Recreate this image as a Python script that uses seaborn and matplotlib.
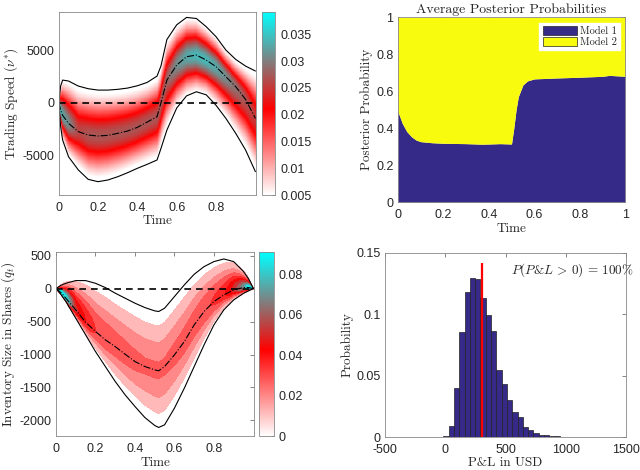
import numpy as np
import matplotlib
matplotlib.use('Agg')
import matplotlib.pyplot as plt
import seaborn as sns
from matplotlib.colors import LinearSegmentedColormap, Normalize
from matplotlib.patches import Patch
from matplotlib.ticker import FormatStrFormatter
import matplotlib.cm as cm

# --- values ---
# top-left: trading speed
speed_t = [0, 0.01, 0.02, 0.05, 0.1, 0.15, 0.2, 0.25, 0.3, 0.35, 0.4, 0.45, 0.5,
           0.52, 0.55, 0.6, 0.65, 0.7, 0.75, 0.8, 0.85, 0.9, 0.95, 1.0]
speed_mean = [0, -700, -1200, -1960, -2750, -3070, -3160, -3100, -2910, -2690, -2340, -1835, -1330,
              0, 2150, 3580, 4370, 4525, 4050, 3420, 2470, 1520, 316, -1490]
speed_upper = [0, 1600, 2150, 2060, 1580, 1330, 1200, 1200, 1270, 1390, 1610, 1930, 2530,
               3500, 6000, 7400, 8100, 8000, 7220, 6270, 5000, 4110, 3480, 3010]
speed_lower = [0, -2280, -3540, -5130, -6390, -7280, -7500, -7340, -7030, -6650, -6230, -5850, -5440,
               -4340, -2600, -500, 650, 1040, 750, -250, -1490, -2910, -4490, -6550]
speed_peak = [0.034, 0.034, 0.033, 0.031, 0.026, 0.027, 0.027, 0.027, 0.027, 0.027, 0.027, 0.027, 0.027,
              0.027, 0.028, 0.031, 0.033, 0.034, 0.034, 0.033, 0.031, 0.029, 0.027, 0.025]

# bottom-left: inventory
inv_t = [0, 0.025, 0.05, 0.1, 0.15, 0.2, 0.25, 0.3, 0.35, 0.4, 0.45, 0.5, 0.52,
         0.55, 0.6, 0.65, 0.7, 0.75, 0.8, 0.85, 0.9, 0.95, 0.975, 1.0]
inv_mean = [0, -60, -146, -323, -510, -650, -778, -880, -995, -1106, -1182, -1232, -1247,
            -1182, -1005, -803, -550, -348, -197, -96, -20, 15, 15, 0]
inv_upper = [0, 50, 80, 121, 121, 80, 15, -70, -146, -222, -288, -338, -348,
             -298, -121, 56, 217, 333, 409, 449, 409, 258, 150, 0]
inv_lower = [0, -90, -197, -450, -702, -955, -1182, -1409, -1611, -1788, -1955, -2076, -2106,
             -2066, -1813, -1510, -1182, -854, -550, -323, -172, -71, -35, 0]
inv_peak = [0.09, 0.09, 0.085, 0.05, 0.04, 0.032, 0.03, 0.028, 0.027, 0.026, 0.025, 0.025, 0.025,
            0.025, 0.026, 0.027, 0.028, 0.03, 0.033, 0.038, 0.05, 0.07, 0.09, 0.09]

# top-right: posterior probability of model 1
post_t = [0, 0.02, 0.04, 0.06, 0.08, 0.1, 0.15, 0.2, 0.3, 0.37, 0.4, 0.45, 0.5,
          0.51, 0.52, 0.53, 0.55, 0.57, 0.6, 0.7, 0.8, 0.9, 0.93, 1.0]
post_model1 = [0.494, 0.427, 0.382, 0.355, 0.337, 0.328, 0.322, 0.319, 0.317, 0.314, 0.315, 0.317, 0.315,
               0.40, 0.499, 0.571, 0.634, 0.656, 0.667, 0.672, 0.676, 0.681, 0.686, 0.681]

# bottom-right: P&L histogram
pnl_centers = [6, 50, 94, 138, 182, 226, 270, 314, 358, 402, 446, 490, 534, 578, 622,
               666, 710, 754, 798, 842, 886, 930, 974, 1018, 1062]
pnl_prob = [0.0008, 0.0092, 0.0398, 0.0858, 0.1183, 0.1292, 0.1289, 0.1132, 0.0991, 0.0864,
            0.0544, 0.0428, 0.0298, 0.0203, 0.0160, 0.0084, 0.0054, 0.0035, 0.0016, 0.0016,
            0.0008, 0.0005, 0.0003, 0.0002, 0.0004]
pnl_binwidth = 44
pnl_mean = 305
pnl_mean_top = 0.142

# --- style ---
sns.set_style('white')
plt.rcParams['font.family'] = ['Liberation Sans', 'DejaVu Sans']
plt.rcParams['mathtext.fontset'] = 'cm'
plt.rcParams['font.size'] = 9

heat_cmap = LinearSegmentedColormap.from_list('wrc', [(0, 'white'), (0.47, 'red'), (1, 'cyan')])
NAVY = '#352A87'
YELLOW = '#F9FB0E'
LBL = 9.5
SERIF = 'cmr10'


def style_axes(ax):
    ax.tick_params(direction='in', top=True, right=True, length=3, width=0.5,
                   color='#555555', labelsize=9)
    ax.tick_params(axis='x', pad=5)
    ax.tick_params(axis='y', pad=3)
    for s in ax.spines.values():
        s.set_color('#888888')
        s.set_linewidth(0.6)
    ax.xaxis.set_major_formatter(FormatStrFormatter('%g'))
    ax.yaxis.set_major_formatter(FormatStrFormatter('%g'))


def band_density(tk, mean, up, lo, peak, z, tg, yg):
    m = np.interp(tg, tk, mean)
    u = np.interp(tg, tk, up)
    l = np.interp(tg, tk, lo)
    p = np.interp(tg, tk, peak)
    su = np.maximum((u - m) / z, 1.0)
    sl = np.maximum((m - l) / z, 1.0)
    Y = yg[:, None]
    s = np.where(Y >= m, su, sl)
    return p * np.exp(-0.5 * ((Y - m) / s) ** 2)


fig = plt.figure(figsize=(6.4, 4.7), dpi=100)

# ---- top-left ----
ax1 = fig.add_axes([0.0917, 0.585, 0.3083, 0.390])
cax1 = fig.add_axes([0.4094, 0.585, 0.0208, 0.390])
tg = np.linspace(0, 1, 400)
yg1 = np.linspace(-8770, 8640, 320)
d1 = band_density(speed_t, speed_mean, speed_upper, speed_lower, speed_peak, 2.0, tg, yg1)
norm1 = Normalize(0.005, 0.0392)
ax1.pcolormesh(tg, yg1, d1, cmap=heat_cmap, norm=norm1, shading='auto', rasterized=True)
ax1.axhline(0, color='k', ls='--', lw=1.2, dashes=(4, 3))
sns.lineplot(x=speed_t, y=speed_upper, ax=ax1, color='k', lw=0.8)
sns.lineplot(x=speed_t, y=speed_lower, ax=ax1, color='k', lw=0.8)
sns.lineplot(x=speed_t, y=speed_mean, ax=ax1, color='k', lw=0.8, linestyle='-.')
ax1.set_xlim(0, 1.003)
ax1.set_ylim(-8770, 8640)
ax1.set_xticks([0, 0.2, 0.4, 0.6, 0.8])
ax1.set_yticks([-5000, 0, 5000])
ax1.set_xlabel('Time', fontfamily=SERIF, fontsize=LBL, labelpad=1)
ax1.set_ylabel(r'Trading Speed $(\nu^{*})$', fontfamily=SERIF, fontsize=LBL, labelpad=2)
style_axes(ax1)
cb1 = fig.colorbar(cm.ScalarMappable(norm=norm1, cmap=heat_cmap), cax=cax1,
                   ticks=[0.005, 0.01, 0.015, 0.02, 0.025, 0.03, 0.035])
cb1.ax.yaxis.set_major_formatter(FormatStrFormatter('%g'))
cb1.ax.tick_params(direction='in', length=2, width=0.5, labelsize=9, color='#555555')
cb1.outline.set_edgecolor('#888888')
cb1.outline.set_linewidth(0.6)

# ---- top-right ----
ax2 = fig.add_axes([0.6214, 0.5696, 0.3556, 0.3936])
ax2.fill_between(post_t, 0, post_model1, color=NAVY, lw=0)
ax2.fill_between(post_t, post_model1, 1, color=YELLOW, lw=0)
ax2.set_xlim(0, 1)
ax2.set_ylim(0, 1)
ax2.set_xticks([0, 0.2, 0.4, 0.6, 0.8, 1])
ax2.set_yticks([0, 0.2, 0.4, 0.6, 0.8, 1])
ax2.set_xlabel('Time', fontfamily=SERIF, fontsize=LBL, labelpad=1)
ax2.set_ylabel('Posterior Probability', fontfamily=SERIF, fontsize=LBL, labelpad=2)
ax2.set_title('Average Posterior Probabilities', fontfamily=SERIF, fontsize=10, pad=3)
style_axes(ax2)
leg = ax2.legend(handles=[Patch(facecolor=NAVY, edgecolor='#222222', lw=0.5, label='Model 1'),
                          Patch(facecolor=YELLOW, edgecolor='#222222', lw=0.5, label='Model 2')],
                 loc='upper right', prop={'family': SERIF, 'size': 7.5}, frameon=True, fancybox=False,
                 edgecolor='white', handlelength=3.3, handleheight=1.0, borderaxespad=0.5,
                 labelspacing=0.1, handletextpad=0.3, borderpad=0.3)
leg.get_frame().set_alpha(1)

# ---- bottom-left ----
ax3 = fig.add_axes([0.0875, 0.0717, 0.3094, 0.3915])
cax3 = fig.add_axes([0.4052, 0.0717, 0.023, 0.3915])
yg3 = np.linspace(-2240, 550, 320)
d3 = band_density(inv_t, inv_mean, inv_upper, inv_lower, inv_peak, 2.0, tg, yg3)
norm3 = Normalize(0, 0.0907)
ax3.contourf(tg, yg3, d3, levels=np.arange(0.008, 0.1, 0.008), cmap=heat_cmap, norm=norm3,
             extend='max')
ax3.axhline(0, color='k', ls='--', lw=1.2, dashes=(4, 3))
sns.lineplot(x=inv_t, y=inv_upper, ax=ax3, color='k', lw=0.8)
sns.lineplot(x=inv_t, y=inv_lower, ax=ax3, color='k', lw=0.8)
sns.lineplot(x=inv_t, y=inv_mean, ax=ax3, color='k', lw=0.8, linestyle='-.')
ax3.set_xlim(0, 1.003)
ax3.set_ylim(-2240, 550)
ax3.set_xticks([0, 0.2, 0.4, 0.6, 0.8])
ax3.set_yticks([-2000, -1500, -1000, -500, 0, 500])
ax3.set_xlabel('Time', fontfamily=SERIF, fontsize=LBL, labelpad=1)
ax3.set_ylabel(r'Inventory Size in Shares $(q_t)$', fontfamily=SERIF, fontsize=LBL, labelpad=2)
style_axes(ax3)
cb3 = fig.colorbar(cm.ScalarMappable(norm=norm3, cmap=heat_cmap), cax=cax3,
                   ticks=[0, 0.02, 0.04, 0.06, 0.08])
cb3.ax.yaxis.set_major_formatter(FormatStrFormatter('%g'))
cb3.ax.tick_params(direction='in', length=2, width=0.5, labelsize=9, color='#555555')
cb3.outline.set_edgecolor('#888888')
cb3.outline.set_linewidth(0.6)

# ---- bottom-right ----
ax4 = fig.add_axes([0.6016, 0.0702, 0.3766, 0.3921])
sns.histplot(x=pnl_centers, weights=pnl_prob, binwidth=pnl_binwidth,
             binrange=(pnl_centers[0] - pnl_binwidth / 2, pnl_centers[-1] + pnl_binwidth / 2),
             stat='count', color=NAVY, alpha=1, edgecolor='#222222', linewidth=0.5, ax=ax4)
ax4.vlines(pnl_mean, 0, pnl_mean_top, color='red', lw=1.6)
ax4.text(1565, 0.136, r'$P(P$&$L\,>\,0)\,=\,100\%$', fontfamily=SERIF, fontsize=9.5,
         ha='right', va='center')
ax4.set_xlim(-500, 1500)
ax4.set_ylim(0, 0.15)
ax4.set_xticks([-500, 0, 500, 1000, 1500])
ax4.set_yticks([0, 0.05, 0.1, 0.15])
ax4.set_xlabel('P&L in USD', fontfamily=SERIF, fontsize=LBL, labelpad=1)
ax4.set_ylabel('Probability', fontfamily=SERIF, fontsize=LBL, labelpad=2)
style_axes(ax4)

fig.savefig('out.png', dpi=100)
